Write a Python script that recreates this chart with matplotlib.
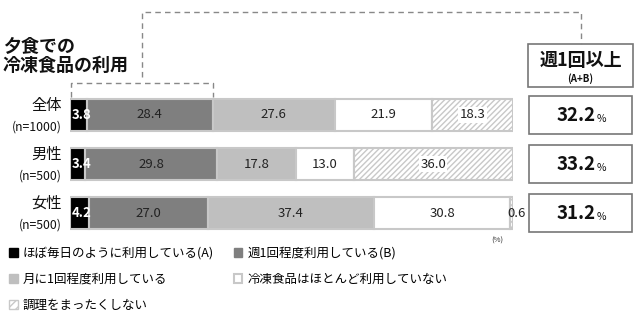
import matplotlib
matplotlib.use("Agg")
import matplotlib.pyplot as plt
from matplotlib.patches import Patch, Rectangle
from matplotlib.lines import Line2D

plt.rcParams['font.family'] = ['Noto Sans CJK JP', 'DejaVu Sans']
plt.rcParams['hatch.linewidth'] = 1.0

groups = ['全体', '男性', '女性']
group_n = ['(n=1000)', '(n=500)', '(n=500)']
series_names = ['ほぼ毎日のように利用している(A)', '週1回程度利用している(B)',
                '月に1回程度利用している', '冷凍食品はほとんど利用していない', '調理をまったくしない']
daily = [3.8, 3.4, 4.2]
weekly = [28.4, 29.8, 27.0]
monthly = [27.6, 17.8, 37.4]
hardly = [21.9, 13.0, 30.8]
nocook = [18.3, 36.0, 0.6]
weekly_plus = [32.2, 33.2, 31.2]

W, H = 640, 320
fig = plt.figure(figsize=(6.4, 3.2), dpi=100)

def ax_px(x0, y0, x1, y1):
    return fig.add_axes([x0 / W, 1 - y1 / H, (x1 - x0) / W, (y1 - y0) / H])

ax = ax_px(70, 90, 513, 238)
ax.set_xlim(0, 100)
ax.set_ylim(2.51, -0.51)
ax.axis('off')

ys = list(range(len(groups)))
series = [daily, weekly, monthly, hardly, nocook]
fills = ['#000000', '#7f7f7f', '#bfbfbf', '#ffffff', '#ffffff']
left = [0.0] * 3
bh = 0.67
for k, (vals, fc) in enumerate(zip(series, fills)):
    hatch = '//////' if k == 4 else None
    ec = '#c8c8c8'
    ax.barh(ys, vals, left=left, height=bh, color=fc, edgecolor=ec,
            linewidth=1.5, hatch=hatch, zorder=2)
    for i, v in enumerate(vals):
        cx = left[i] + v / 2
        if k == 0:
            ax.text(left[i] + 0.4, i, f'{v:.1f}', ha='left', va='center',
                    color='white', fontsize=9.5, fontweight='bold', zorder=5)
        elif k == 4:
            if v < 2:
                ax.text(100.8, i, f'{v:.1f}', ha='center', va='center',
                        color='#222222', fontsize=9.5, zorder=5)
            else:
                ax.text(cx, i, f'{v:.1f}', ha='center', va='center', color='#222222',
                        fontsize=9.5, zorder=5,
                        bbox=dict(boxstyle='square,pad=0.1', fc='white', ec='none'))
        else:
            ax.text(cx, i, f'{v:.1f}', ha='center', va='center',
                    color='#222222', fontsize=9.5, zorder=5)
        left[i] += v

# row labels
for i, (g, n) in enumerate(zip(groups, group_n)):
    ax.text(-1.8, i - 0.2, g, ha='right', va='center', fontsize=11, color='#111111')
    ax.text(-1.8, i + 0.24, n, ha='right', va='center', fontsize=8.8, color='#111111')

ax.text(96.5, 2.56, '(%)', ha='center', va='center', fontsize=5.5, color='#333333')

# right boxes
bx = ax_px(528, 90, 633, 238)
bx.set_xlim(0, 1)
bx.set_ylim(2.51, -0.51)
bx.axis('off')
for i, v in enumerate(weekly_plus):
    bx.add_patch(Rectangle((0.005, i - 0.39), 0.99, 0.78, fc='white', ec='#777777', lw=1.2))
    bx.text(0.64, i + 0.02, f'{v:.1f}', ha='right', va='center', fontsize=13.5,
            fontweight='bold', color='#111111')
    bx.text(0.65, i + 0.08, '%', ha='left', va='center', fontsize=7.5,
            color='#111111')

# header box
fig.patches.append(Rectangle((528 / W, 1 - 87 / H), 105 / W, 43 / H, fc='white',
                             ec='#777777', lw=1.2, transform=fig.transFigure, figure=fig))
fig.text(580.5 / W, 1 - 60 / H, '週1回以上', ha='center', va='center', fontsize=13,
         fontweight='bold', color='#111111')
fig.text(580.5 / W, 1 - 79 / H, '(A+B)', ha='center', va='center', fontsize=7,
         fontweight='bold', color='#111111')

# dashed connectors
def dline(xs, ysp):
    fig.add_artist(Line2D([x / W for x in xs], [1 - y / H for y in ysp],
                          transform=fig.transFigure, color='#888888', lw=1.0,
                          ls=(0, (4, 3))))
dline([142, 142, 581, 581], [77, 12, 12, 44])
ab_end = 70 + (daily[0] + weekly[0]) / 100 * 443
dline([71, 71, ab_end, ab_end], [97, 83, 83, 97])

# title
fig.text(3 / W, 1 - 56 / H, '夕食での\n冷凍食品の利用', ha='left', va='center',
         fontsize=13, fontweight='bold', color='#111111', linespacing=1.05)

# legend
handles = [
    Patch(fc='#000000', ec='#000000'),
    Patch(fc='#bfbfbf', ec='#bfbfbf'),
    Patch(fc='white', ec='#c8c8c8', hatch='////'),
    Patch(fc='#7f7f7f', ec='#7f7f7f'),
    Patch(fc='white', ec='#c8c8c8', lw=1.5),
]
labels = [series_names[0], series_names[2], series_names[4], series_names[1], series_names[3]]
fig.legend(handles, labels, loc='upper left', bbox_to_anchor=(0 / W, 1 - 238 / H),
           ncol=2, frameon=False, fontsize=9, handlelength=0.7, handleheight=0.7,
           handletextpad=0.4, columnspacing=1.6, labelspacing=1.05, borderaxespad=0.3)

fig.savefig('out.png', dpi=100)
